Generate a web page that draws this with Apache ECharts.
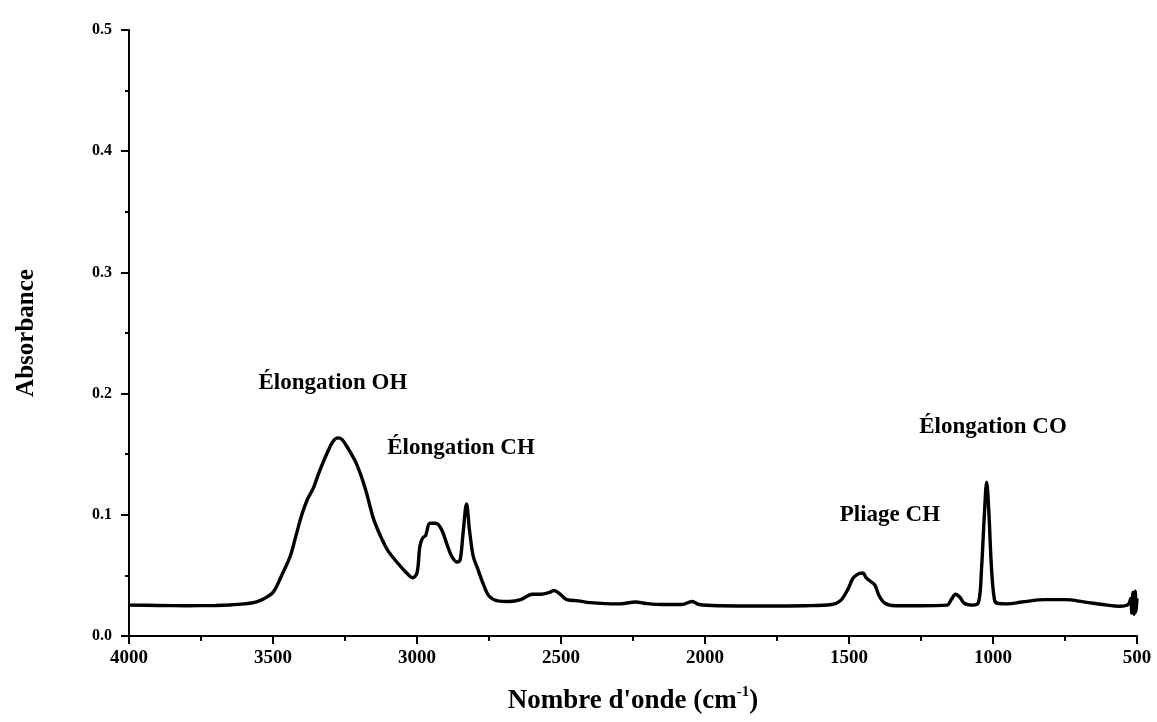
<!DOCTYPE html>
<html>
<head>
<meta charset="utf-8">
<script src="https://cdn.jsdelivr.net/npm/echarts@6/dist/echarts.min.js"></script>
<style>
html,body{margin:0;padding:0;background:#fff;}
#chart{width:1157px;height:722px;}
</style>
</head>
<body>
<div id="chart"></div>
<script>
// Wavenumber (cm-1)
var wavenumbers = [4000,3900,3800,3700,3650,3600,3560,3530,3500,3470,3440,3420,3400,3380,3360,3340,3310,3290,3275,3260,3240,3210,3180,3150,3120,3100,3070,3040,3015,3000,2990,2980,2970,2955,2935,2915,2895,2880,2860,2850,2840,2828,2818,2805,2790,2770,2750,2720,2680,2640,2600,2570,2540,2525,2505,2480,2440,2400,2300,2240,2210,2150,2080,2045,2020,1950,1800,1650,1560,1530,1505,1485,1465,1452,1440,1425,1410,1395,1375,1340,1250,1160,1145,1130,1115,1100,1070,1050,1040,1030,1022,1015,1005,995,985,950,900,820,750,680,620,560,530,522,518,514,510,506,503,500];
// Absorbance
var absorbance = [0.0255,0.0252,0.025,0.0252,0.0256,0.0265,0.028,0.031,0.036,0.05,0.066,0.083,0.100,0.113,0.122,0.135,0.152,0.161,0.1635,0.162,0.155,0.142,0.122,0.096,0.079,0.070,0.061,0.053,0.048,0.052,0.074,0.081,0.083,0.093,0.093,0.088,0.075,0.066,0.061,0.063,0.085,0.109,0.088,0.066,0.056,0.043,0.033,0.029,0.0285,0.030,0.0345,0.0345,0.036,0.0375,0.035,0.030,0.029,0.0275,0.0265,0.028,0.027,0.026,0.026,0.0285,0.026,0.025,0.0248,0.025,0.026,0.029,0.038,0.048,0.0515,0.052,0.048,0.045,0.042,0.033,0.027,0.025,0.025,0.0255,0.030,0.0345,0.032,0.027,0.0255,0.028,0.055,0.100,0.127,0.105,0.055,0.030,0.027,0.0265,0.028,0.030,0.030,0.028,0.026,0.0245,0.026,0.031,0.019,0.036,0.018,0.037,0.020,0.031];
// Annotations: [wavenumber, absorbance, text]
var annotX = [3292, 2847, 1358, 1000];
var annotY = [0.209, 0.155, 0.100, 0.172];
var annotText = ['Élongation OH', 'Élongation CH', 'Pliage CH', 'Élongation CO'];
var xTicks = {min: 500, max: 4000, interval: 500};
var yTicks = {min: 0, max: 0.5, interval: 0.1};

var lineData = wavenumbers.map(function (w, i) { return [w, absorbance[i]]; });
var annotData = annotX.map(function (x, i) { return {value: [x, annotY[i]], name: annotText[i]}; });

var chart = echarts.init(document.getElementById('chart'));
var serif = 'Liberation Serif';
chart.setOption({
  animation: false,
  backgroundColor: '#fff',
  grid: {left: 129, right: 20, top: 30, bottom: 86},
  xAxis: {
    type: 'value', inverse: true,
    min: xTicks.min, max: xTicks.max, interval: xTicks.interval,
    axisLine: {show: true, onZero: false, lineStyle: {color: '#000', width: 2}},
    axisTick: {show: true, inside: false, length: 8, lineStyle: {color: '#000', width: 2}},
    minorTick: {show: true, splitNumber: 2, length: 5, lineStyle: {color: '#000', width: 2}},
    splitLine: {show: false},
    axisLabel: {color: '#000', fontFamily: serif, fontWeight: 'bold', fontSize: 19, margin: 13,
      formatter: function (v) { return String(v); }},
    name: "{b|Nombre d'onde (cm}{s|-1}{b|)}",
    nameLocation: 'middle', nameGap: 49,
    nameTextStyle: {
      color: '#000', fontFamily: serif, fontWeight: 'bold', fontSize: 27,
      rich: {
        b: {fontFamily: serif, fontWeight: 'bold', fontSize: 27, color: '#000', lineHeight: 30, verticalAlign: 'bottom'},
        s: {fontFamily: serif, fontWeight: 'bold', fontSize: 15, color: '#000', lineHeight: 30, verticalAlign: 'top'}
      }
    }
  },
  yAxis: {
    type: 'value',
    min: yTicks.min, max: yTicks.max, interval: yTicks.interval,
    axisLine: {show: true, onZero: false, lineStyle: {color: '#000', width: 2}},
    axisTick: {show: true, inside: false, length: 8, lineStyle: {color: '#000', width: 2}},
    minorTick: {show: true, splitNumber: 2, length: 4, lineStyle: {color: '#000', width: 2}},
    splitLine: {show: false},
    axisLabel: {color: '#000', fontFamily: serif, fontWeight: 'bold', fontSize: 16, margin: 17,
      formatter: function (v) { return v.toFixed(1); }},
    name: 'Absorbance',
    nameLocation: 'middle', nameGap: 90, nameRotate: 90,
    nameTextStyle: {color: '#000', fontFamily: serif, fontWeight: 'bold', fontSize: 25}
  },
  series: [
    {
      type: 'line', data: lineData, showSymbol: false, smooth: 0.35,
      lineStyle: {color: '#000', width: 3.4}, silent: true
    },
    {
      type: 'scatter', data: annotData, symbolSize: 0, silent: true,
      itemStyle: {opacity: 1, color: '#000'},
      label: {show: true, position: 'inside', formatter: function (p) { return p.name; },
        color: '#000', opacity: 1, fontFamily: serif, fontWeight: 'bold', fontSize: 23}
    }
  ]
});
</script>
</body>
</html>
